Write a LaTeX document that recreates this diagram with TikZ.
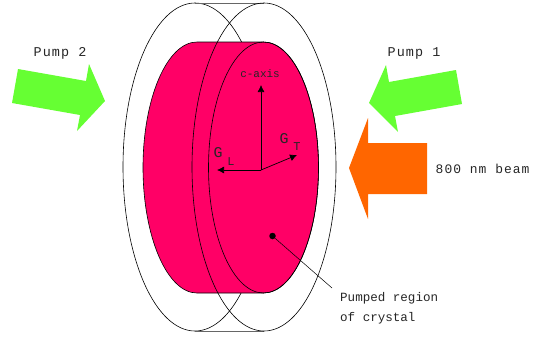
\documentclass[tikz,border=0pt]{standalone}
\usepackage{fontspec}
\setmainfont{Liberation Mono}
\newfontfamily\wideT[LetterSpace=8]{Liberation Mono}
\newfontfamily\narrowT[LetterSpace=0]{Liberation Mono}
\usetikzlibrary{arrows.meta}
\definecolor{crystal}{HTML}{FF0066}
\definecolor{pumpgreen}{HTML}{66FF33}
\definecolor{beamorange}{HTML}{FF6600}
\tikzset{
  x=1bp,y=-1bp,
  outline/.style={draw=black,line width=0.6bp},
  vec/.style={draw=black,line width=0.7bp,-{Latex[length=7bp,width=7bp]}},
  leader/.style={draw=black,line width=0.5bp},
  lbl/.style={inner sep=0pt,text=black!85,font=\wideT\fontsize{13.5}{15}\selectfont},
  beamlbl/.style={inner sep=0pt,text=black!85,font=\wideT\fontsize{13}{15}\selectfont},
  small/.style={inner sep=0pt,text=black!85,font=\narrowT\fontsize{12.6}{14}\selectfont,anchor=west},
  gsym/.style={inner sep=0pt,text=black!85,font=\narrowT\fontsize{15}{15}\selectfont},
  sub/.style={inner sep=0pt,text=black!85,font=\narrowT\fontsize{12}{13}\selectfont},
  axislbl/.style={inner sep=0pt,text=black!85,font=\narrowT\fontsize{11}{13}\selectfont}
}
\begin{document}
\begin{tikzpicture}
\useasboundingbox (0,0) rectangle (533,337);
% back outer ellipse and top/bottom rims
\draw[outline] (195,167) ellipse [x radius=72,y radius=164];
\draw[draw=black!60,line width=0.8bp] (195,3) -- (264,3);
\draw[draw=black!60,line width=0.8bp] (195,331) -- (264,331);
% crystal body
\path[fill=crystal,outline] (197,42) -- (263.5,42)
  .. controls (293.9,42) and (318.5,98.2) .. (318.5,167.5)
  .. controls (318.5,236.8) and (293.9,293) .. (263.5,293)
  -- (197,293)
  .. controls (167.2,293) and (143,236.8) .. (143,167.5)
  .. controls (143,98.2) and (167.2,42) .. (197,42) -- cycle;
\draw[outline] (263.5,167.5) ellipse [x radius=55,y radius=125.5];
\draw[outline] (264,167) ellipse [x radius=72,y radius=164];
% vectors
\coordinate (origin) at (261,170);
\coordinate (ctip) at (261,85);
\coordinate (ltip) at (217,170);
\coordinate (ttip) at (297,155);
\draw[vec] (origin) -- (ctip);
\draw[vec] (origin) -- (ltip);
\draw[vec] (origin) -- (ttip);
\node[axislbl] (caxis) at (260,74) {c-axis};
\node[gsym] (gl) at (218,153) {G};
\node[sub] (glsub) at (231,162) {L};
\node[gsym] (gt) at (284,139) {G};
\node[sub] (gtsub) at (297,147) {T};
% pumped region
\node[circle,fill=black,inner sep=0pt,minimum size=6.5bp] (dot) at (272.5,236) {};
\coordinate (leaderend) at (332,288);
\draw[leader] (dot) -- (leaderend);
\node[small] (region) at (340,298.5) {Pumped region};
\node[small] (region2) at (340,318) {of crystal};
% arrows
\fill[pumpgreen] (18,69) -- (86,81) -- (89,64) -- (105,101) -- (77,131) -- (80,115) -- (12,103) -- cycle;
\fill[pumpgreen] (456,70) -- (389,82) -- (386,65) -- (369,103) -- (398,132) -- (395,116) -- (462,104) -- cycle;
\fill[beamorange] (427,143) -- (368,143) -- (368,118) -- (349,168) -- (368,219) -- (368,194) -- (427,194) -- cycle;
\node[lbl] (pump2) at (60,53) {Pump 2};
\node[lbl] (pump1) at (414,53) {Pump 1};
\node[beamlbl,anchor=west] (beam) at (435.5,169) {800 nm beam};
\end{tikzpicture}
\end{document}
